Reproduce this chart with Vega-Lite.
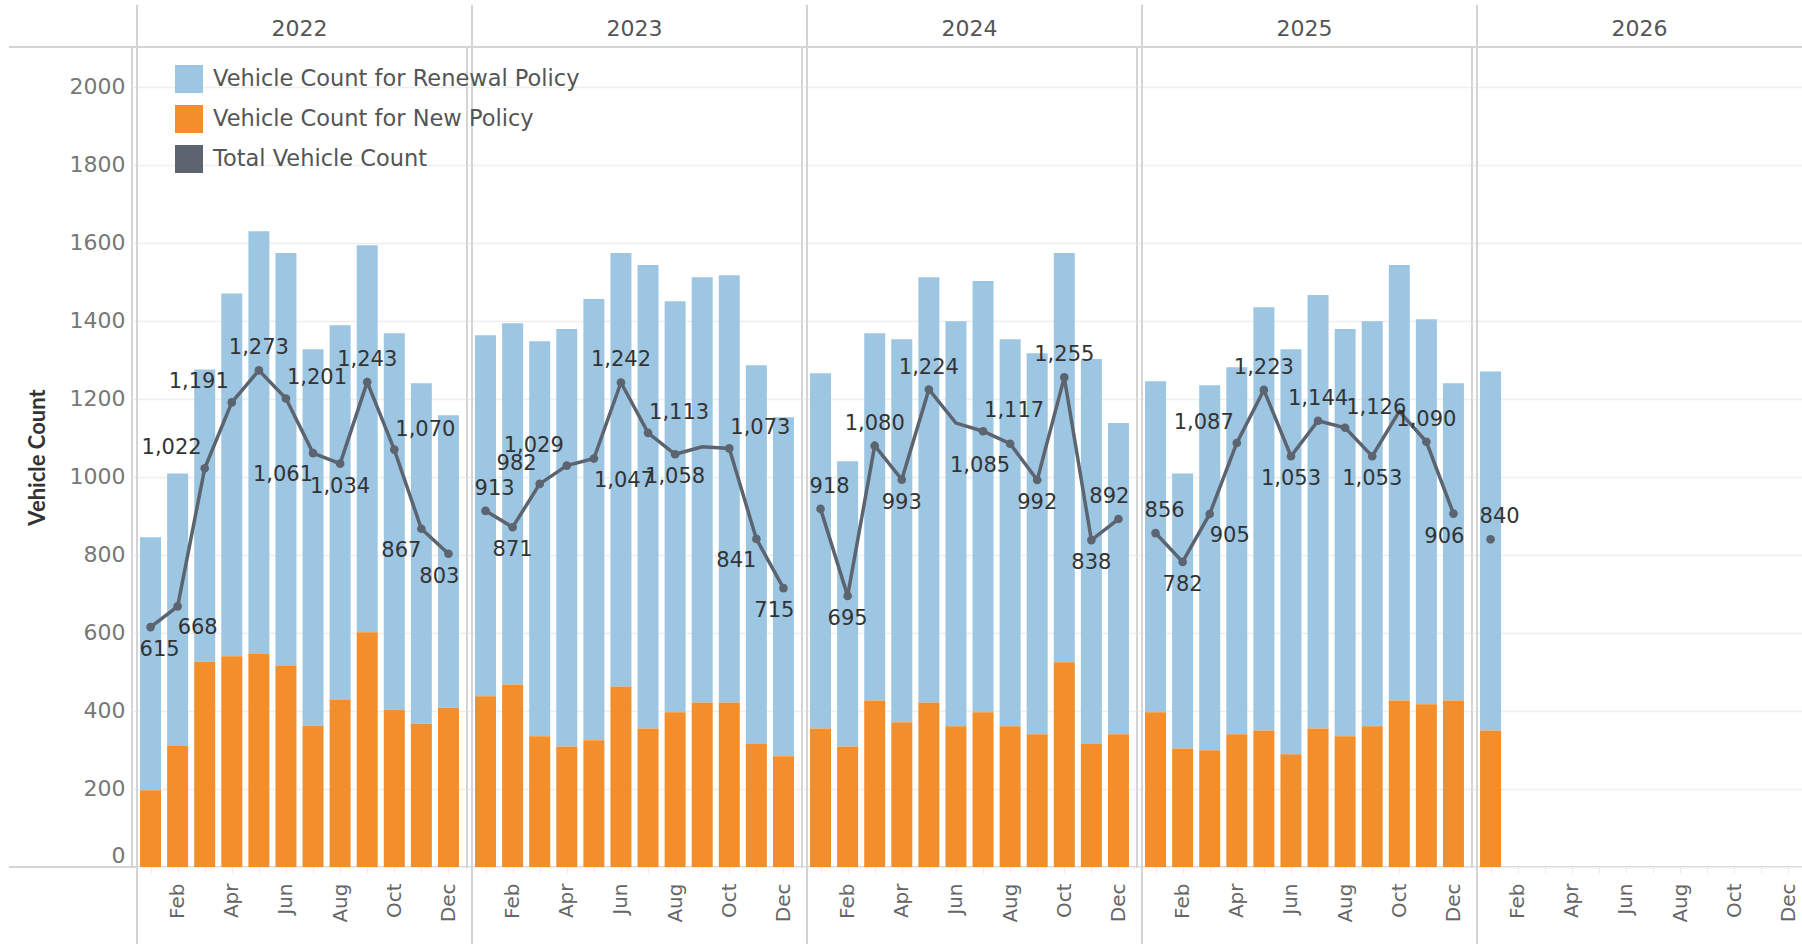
{
  "$schema": "https://vega.github.io/schema/vega-lite/v6.json",
  "padding": {"left": 6, "top": 2, "right": 0, "bottom": 0},
  "background": "white",
  "data": {"values": [
    {"year": 2022, "month": 1, "new": 197, "renewal": 648, "total": 615, "marked": true},
    {"year": 2022, "month": 2, "new": 310, "renewal": 699, "total": 668, "marked": true},
    {"year": 2022, "month": 3, "new": 526, "renewal": 749, "total": 1022, "marked": true},
    {"year": 2022, "month": 4, "new": 540, "renewal": 930, "total": 1191, "marked": true},
    {"year": 2022, "month": 5, "new": 546, "renewal": 1084, "total": 1273, "marked": true},
    {"year": 2022, "month": 6, "new": 515, "renewal": 1059, "total": 1201, "marked": true},
    {"year": 2022, "month": 7, "new": 362, "renewal": 965, "total": 1061, "marked": true},
    {"year": 2022, "month": 8, "new": 428, "renewal": 961, "total": 1034, "marked": true},
    {"year": 2022, "month": 9, "new": 602, "renewal": 992, "total": 1243, "marked": true},
    {"year": 2022, "month": 10, "new": 403, "renewal": 965, "total": 1070, "marked": true},
    {"year": 2022, "month": 11, "new": 367, "renewal": 873, "total": 867, "marked": true},
    {"year": 2022, "month": 12, "new": 408, "renewal": 750, "total": 803, "marked": true},
    {"year": 2023, "month": 1, "new": 438, "renewal": 925, "total": 913, "marked": true},
    {"year": 2023, "month": 2, "new": 468, "renewal": 926, "total": 871, "marked": true},
    {"year": 2023, "month": 3, "new": 335, "renewal": 1013, "total": 982, "marked": true},
    {"year": 2023, "month": 4, "new": 309, "renewal": 1070, "total": 1029, "marked": true},
    {"year": 2023, "month": 5, "new": 325, "renewal": 1131, "total": 1047, "marked": true},
    {"year": 2023, "month": 6, "new": 463, "renewal": 1111, "total": 1242, "marked": true},
    {"year": 2023, "month": 7, "new": 355, "renewal": 1188, "total": 1113, "marked": true},
    {"year": 2023, "month": 8, "new": 397, "renewal": 1053, "total": 1058, "marked": true},
    {"year": 2023, "month": 9, "new": 422, "renewal": 1090, "total": 1077, "marked": false},
    {"year": 2023, "month": 10, "new": 422, "renewal": 1095, "total": 1073, "marked": true},
    {"year": 2023, "month": 11, "new": 315, "renewal": 971, "total": 841, "marked": true},
    {"year": 2023, "month": 12, "new": 284, "renewal": 869, "total": 715, "marked": true},
    {"year": 2024, "month": 1, "new": 355, "renewal": 911, "total": 918, "marked": true},
    {"year": 2024, "month": 2, "new": 309, "renewal": 731, "total": 695, "marked": true},
    {"year": 2024, "month": 3, "new": 427, "renewal": 941, "total": 1080, "marked": true},
    {"year": 2024, "month": 4, "new": 371, "renewal": 982, "total": 993, "marked": true},
    {"year": 2024, "month": 5, "new": 422, "renewal": 1090, "total": 1224, "marked": true},
    {"year": 2024, "month": 6, "new": 361, "renewal": 1038, "total": 1138, "marked": false},
    {"year": 2024, "month": 7, "new": 397, "renewal": 1105, "total": 1117, "marked": true},
    {"year": 2024, "month": 8, "new": 361, "renewal": 992, "total": 1085, "marked": true},
    {"year": 2024, "month": 9, "new": 340, "renewal": 977, "total": 992, "marked": true},
    {"year": 2024, "month": 10, "new": 525, "renewal": 1049, "total": 1255, "marked": true},
    {"year": 2024, "month": 11, "new": 315, "renewal": 987, "total": 838, "marked": true},
    {"year": 2024, "month": 12, "new": 340, "renewal": 798, "total": 892, "marked": true},
    {"year": 2025, "month": 1, "new": 397, "renewal": 848, "total": 856, "marked": true},
    {"year": 2025, "month": 2, "new": 304, "renewal": 705, "total": 782, "marked": true},
    {"year": 2025, "month": 3, "new": 299, "renewal": 936, "total": 905, "marked": true},
    {"year": 2025, "month": 4, "new": 340, "renewal": 941, "total": 1087, "marked": true},
    {"year": 2025, "month": 5, "new": 350, "renewal": 1085, "total": 1223, "marked": true},
    {"year": 2025, "month": 6, "new": 289, "renewal": 1038, "total": 1053, "marked": true},
    {"year": 2025, "month": 7, "new": 355, "renewal": 1111, "total": 1144, "marked": true},
    {"year": 2025, "month": 8, "new": 335, "renewal": 1044, "total": 1126, "marked": true},
    {"year": 2025, "month": 9, "new": 361, "renewal": 1038, "total": 1053, "marked": true},
    {"year": 2025, "month": 10, "new": 427, "renewal": 1116, "total": 1168, "marked": false},
    {"year": 2025, "month": 11, "new": 417, "renewal": 987, "total": 1090, "marked": true},
    {"year": 2025, "month": 12, "new": 427, "renewal": 813, "total": 906, "marked": true},
    {"year": 2026, "month": 1, "new": 350, "renewal": 920, "total": 840, "marked": true}
  ]},
  "transform": [
    {"window": [
      {"op": "lag", "field": "total", "as": "prev"},
      {"op": "lead", "field": "total", "as": "next"},
      {"op": "lag", "field": "total", "param": 2, "as": "prev2"},
      {"op": "lag", "field": "marked", "as": "prevmarked"}
    ], "groupby": ["year"], "sort": [{"field": "month", "order": "ascending"}]}
  ],
  "facet": {"column": {"field": "year", "type": "ordinal", "header": {"title": null, "labelFontSize": 22, "labelColor": "#555555", "labelFont": "DejaVu Sans", "labelPadding": 6}}},
  "spacing": 0,
  "bounds": "flush",
  "spec": {
    "width": 335,
    "height": 820,
    "encoding": {
      "x": {"field": "month", "type": "quantitative", "title": null, "scale": {"domain": [0.5, 12.5], "nice": false, "zero": false},
        "axis": {"title": null, "values": [1,2,3,4,5,6,7,8,9,10,11,12], "labelExpr": "datum.value % 2 == 0 ? ['Jan','Feb','Mar','Apr','May','Jun','Jul','Aug','Sep','Oct','Nov','Dec'][datum.value - 1] : ''"}}
    },
    "layer": [
      {
        "transform": [{"fold": ["renewal", "new"], "as": ["measure", "value"]}],
        "mark": {"type": "bar", "size": 21},
        "encoding": {
          "y": {"field": "value", "type": "quantitative", "stack": "zero", "title": "Vehicle Count", "scale": {"domain": [0, 2102], "nice": false, "zero": true}, "axis": {"format": "d"}},
          "color": {"field": "measure", "type": "nominal",
            "scale": {"domain": ["renewal", "new", "total"], "range": ["#9dc6e3", "#f28e2b", "#5c6470"]},
            "legend": {"title": null, "orient": "none", "legendX": 43, "legendY": 18, "symbolType": "square", "symbolSize": 784, "symbolStrokeWidth": 0, "symbolOpacity": 1, "labelFontSize": 22.5, "labelColor": "#555555", "labelFont": "DejaVu Sans", "labelLimit": 0, "rowPadding": 12, "labelOffset": 10,
              "labelExpr": "datum.label == 'renewal' ? 'Vehicle Count for Renewal Policy' : datum.label == 'new' ? 'Vehicle Count for New Policy' : 'Total Vehicle Count'"}},
          "order": {"field": "measure", "sort": "ascending"}
        }
      },
      {
        "mark": {"type": "line", "strokeWidth": 3.5},
        "encoding": {
          "y": {"field": "total", "type": "quantitative", "title": "Vehicle Count"},
          "color": {"datum": "total", "type": "nominal", "legend": null}
        }
      },
      {
        "transform": [{"filter": "datum.marked"}],
        "mark": {"type": "point", "filled": true, "opacity": 1, "size": 75, "color": "#5c6470"},
        "encoding": {
          "y": {"field": "total", "type": "quantitative", "title": "Vehicle Count"}
        }
      },
      {
        "transform": [
          {"filter": "datum.marked && ((datum.total >= (((datum.prev == null ? datum.next : datum.prev) + (datum.next == null ? datum.prev : datum.next)) / 2) - ((datum.prev != null && datum.next != null && datum.prev > datum.total && datum.total > datum.next) ? 40 : 0)) && !(datum.prev != null && datum.next != null && datum.prev > datum.total && datum.total > datum.next && datum.prevmarked == true && datum.prev2 != null && datum.prev2 > datum.prev))"},
          {"filter": "datum.prev != null && datum.next != null && datum.prev < datum.total && datum.total < datum.next"}
        ],
        "mark": {"type": "text", "fontSize": 21, "font": "DejaVu Sans", "color": "#333333", "baseline": "alphabetic", "align": "right", "dx": -3, "dy": -14},
        "encoding": {"y": {"field": "total", "type": "quantitative", "title": "Vehicle Count"}, "text": {"field": "total", "type": "quantitative", "format": ","}}
      },
      {
        "transform": [
          {"filter": "datum.marked && ((datum.total >= (((datum.prev == null ? datum.next : datum.prev) + (datum.next == null ? datum.prev : datum.next)) / 2) - ((datum.prev != null && datum.next != null && datum.prev > datum.total && datum.total > datum.next) ? 40 : 0)) && !(datum.prev != null && datum.next != null && datum.prev > datum.total && datum.total > datum.next && datum.prevmarked == true && datum.prev2 != null && datum.prev2 > datum.prev))"},
          {"filter": "datum.month < 11 && datum.prev != null && datum.next != null && datum.prev > datum.total && datum.total > datum.next"}
        ],
        "mark": {"type": "text", "fontSize": 21, "font": "DejaVu Sans", "color": "#333333", "baseline": "alphabetic", "align": "left", "dx": 1, "dy": -14},
        "encoding": {"y": {"field": "total", "type": "quantitative", "title": "Vehicle Count"}, "text": {"field": "total", "type": "quantitative", "format": ","}}
      },
      {
        "transform": [
          {"filter": "datum.marked && ((datum.total >= (((datum.prev == null ? datum.next : datum.prev) + (datum.next == null ? datum.prev : datum.next)) / 2) - ((datum.prev != null && datum.next != null && datum.prev > datum.total && datum.total > datum.next) ? 40 : 0)) && !(datum.prev != null && datum.next != null && datum.prev > datum.total && datum.total > datum.next && datum.prevmarked == true && datum.prev2 != null && datum.prev2 > datum.prev))"},
          {"filter": "datum.month > 1 && datum.month < 12 && !(datum.prev != null && datum.next != null && datum.prev < datum.total && datum.total < datum.next) && !(datum.month < 11 && datum.prev != null && datum.next != null && datum.prev > datum.total && datum.total > datum.next)"}
        ],
        "mark": {"type": "text", "fontSize": 21, "font": "DejaVu Sans", "color": "#333333", "baseline": "alphabetic", "dy": -16},
        "encoding": {"y": {"field": "total", "type": "quantitative", "title": "Vehicle Count"}, "text": {"field": "total", "type": "quantitative", "format": ","}}
      },
      {
        "transform": [
          {"filter": "datum.marked && ((datum.total >= (((datum.prev == null ? datum.next : datum.prev) + (datum.next == null ? datum.prev : datum.next)) / 2) - ((datum.prev != null && datum.next != null && datum.prev > datum.total && datum.total > datum.next) ? 40 : 0)) && !(datum.prev != null && datum.next != null && datum.prev > datum.total && datum.total > datum.next && datum.prevmarked == true && datum.prev2 != null && datum.prev2 > datum.prev))"},
          {"filter": "datum.month == 1"}
        ],
        "mark": {"type": "text", "fontSize": 21, "font": "DejaVu Sans", "color": "#333333", "baseline": "alphabetic", "align": "left", "dx": -11, "dy": -16},
        "encoding": {"y": {"field": "total", "type": "quantitative", "title": "Vehicle Count"}, "text": {"field": "total", "type": "quantitative", "format": ","}}
      },
      {
        "transform": [
          {"filter": "datum.marked && ((datum.total >= (((datum.prev == null ? datum.next : datum.prev) + (datum.next == null ? datum.prev : datum.next)) / 2) - ((datum.prev != null && datum.next != null && datum.prev > datum.total && datum.total > datum.next) ? 40 : 0)) && !(datum.prev != null && datum.next != null && datum.prev > datum.total && datum.total > datum.next && datum.prevmarked == true && datum.prev2 != null && datum.prev2 > datum.prev))"},
          {"filter": "datum.month == 12"}
        ],
        "mark": {"type": "text", "fontSize": 21, "font": "DejaVu Sans", "color": "#333333", "baseline": "alphabetic", "align": "right", "dx": 11, "dy": -16},
        "encoding": {"y": {"field": "total", "type": "quantitative", "title": "Vehicle Count"}, "text": {"field": "total", "type": "quantitative", "format": ","}}
      },
      {
        "transform": [
          {"filter": "datum.marked && !((datum.total >= (((datum.prev == null ? datum.next : datum.prev) + (datum.next == null ? datum.prev : datum.next)) / 2) - ((datum.prev != null && datum.next != null && datum.prev > datum.total && datum.total > datum.next) ? 40 : 0)) && !(datum.prev != null && datum.next != null && datum.prev > datum.total && datum.total > datum.next && datum.prevmarked == true && datum.prev2 != null && datum.prev2 > datum.prev))"},
          {"filter": "datum.month < 11 && datum.prev != null && datum.next != null && datum.prev < datum.total && datum.total < datum.next"}
        ],
        "mark": {"type": "text", "fontSize": 21, "font": "DejaVu Sans", "color": "#333333", "baseline": "alphabetic", "align": "left", "dx": 0, "dy": 28},
        "encoding": {"y": {"field": "total", "type": "quantitative", "title": "Vehicle Count"}, "text": {"field": "total", "type": "quantitative", "format": ","}}
      },
      {
        "transform": [
          {"filter": "datum.marked && !((datum.total >= (((datum.prev == null ? datum.next : datum.prev) + (datum.next == null ? datum.prev : datum.next)) / 2) - ((datum.prev != null && datum.next != null && datum.prev > datum.total && datum.total > datum.next) ? 40 : 0)) && !(datum.prev != null && datum.next != null && datum.prev > datum.total && datum.total > datum.next && datum.prevmarked == true && datum.prev2 != null && datum.prev2 > datum.prev))"},
          {"filter": "datum.prev != null && datum.next != null && datum.prev > datum.total && datum.total > datum.next"}
        ],
        "mark": {"type": "text", "fontSize": 21, "font": "DejaVu Sans", "color": "#333333", "baseline": "alphabetic", "align": "right", "dx": 0, "dy": 28},
        "encoding": {"y": {"field": "total", "type": "quantitative", "title": "Vehicle Count"}, "text": {"field": "total", "type": "quantitative", "format": ","}}
      },
      {
        "transform": [
          {"filter": "datum.marked && !((datum.total >= (((datum.prev == null ? datum.next : datum.prev) + (datum.next == null ? datum.prev : datum.next)) / 2) - ((datum.prev != null && datum.next != null && datum.prev > datum.total && datum.total > datum.next) ? 40 : 0)) && !(datum.prev != null && datum.next != null && datum.prev > datum.total && datum.total > datum.next && datum.prevmarked == true && datum.prev2 != null && datum.prev2 > datum.prev))"},
          {"filter": "datum.month > 1 && datum.month < 12 && !(datum.prev != null && datum.next != null && datum.prev > datum.total && datum.total > datum.next) && !(datum.month < 11 && datum.prev != null && datum.next != null && datum.prev < datum.total && datum.total < datum.next)"}
        ],
        "mark": {"type": "text", "fontSize": 21, "font": "DejaVu Sans", "color": "#333333", "baseline": "alphabetic", "dy": 29},
        "encoding": {"y": {"field": "total", "type": "quantitative", "title": "Vehicle Count"}, "text": {"field": "total", "type": "quantitative", "format": ","}}
      },
      {
        "transform": [
          {"filter": "datum.marked && !((datum.total >= (((datum.prev == null ? datum.next : datum.prev) + (datum.next == null ? datum.prev : datum.next)) / 2) - ((datum.prev != null && datum.next != null && datum.prev > datum.total && datum.total > datum.next) ? 40 : 0)) && !(datum.prev != null && datum.next != null && datum.prev > datum.total && datum.total > datum.next && datum.prevmarked == true && datum.prev2 != null && datum.prev2 > datum.prev))"},
          {"filter": "datum.month == 1"}
        ],
        "mark": {"type": "text", "fontSize": 21, "font": "DejaVu Sans", "color": "#333333", "baseline": "alphabetic", "align": "left", "dx": -11, "dy": 29},
        "encoding": {"y": {"field": "total", "type": "quantitative", "title": "Vehicle Count"}, "text": {"field": "total", "type": "quantitative", "format": ","}}
      },
      {
        "transform": [
          {"filter": "datum.marked && !((datum.total >= (((datum.prev == null ? datum.next : datum.prev) + (datum.next == null ? datum.prev : datum.next)) / 2) - ((datum.prev != null && datum.next != null && datum.prev > datum.total && datum.total > datum.next) ? 40 : 0)) && !(datum.prev != null && datum.next != null && datum.prev > datum.total && datum.total > datum.next && datum.prevmarked == true && datum.prev2 != null && datum.prev2 > datum.prev))"},
          {"filter": "datum.month == 12"}
        ],
        "mark": {"type": "text", "fontSize": 21, "font": "DejaVu Sans", "color": "#333333", "baseline": "alphabetic", "align": "right", "dx": 11, "dy": 29},
        "encoding": {"y": {"field": "total", "type": "quantitative", "title": "Vehicle Count"}, "text": {"field": "total", "type": "quantitative", "format": ","}}
      },
      {
        "transform": [{"filter": "datum.month == 1"}],
        "mark": {"type": "rule", "color": "#d4d4d4", "strokeWidth": 2},
        "encoding": {
          "x": {"datum": 0.5, "type": "quantitative", "title": null},
          "y": {"datum": 2210, "type": "quantitative", "title": "Vehicle Count"},
          "y2": {"datum": -200}
        }
      },
      {
        "transform": [{"filter": "datum.month == 1 && datum.year == 2022"}],
        "mark": {"type": "rule", "color": "#d4d4d4", "strokeWidth": 2},
        "encoding": {
          "x": {"datum": -4.23, "type": "quantitative", "title": null},
          "x2": {"datum": 0.5},
          "y": {"datum": 2102, "type": "quantitative", "title": "Vehicle Count"}
        }
      },
      {
        "transform": [{"filter": "datum.month == 1 && datum.year == 2022"}],
        "mark": {"type": "rule", "color": "#d4d4d4", "strokeWidth": 2},
        "encoding": {
          "x": {"datum": -4.23, "type": "quantitative", "title": null},
          "x2": {"datum": 0.5},
          "y": {"datum": 0, "type": "quantitative", "title": "Vehicle Count"}
        }
      }
    ]
  },
  "config": {
    "font": "DejaVu Sans",
    "view": {"stroke": "#d4d4d4", "strokeWidth": 2, "fill": "transparent"},
    "axis": {"labelFont": "DejaVu Sans", "titleFont": "Lato"},
    "axisX": {"labelAngle": -90, "labelFontSize": 20, "labelColor": "#666666", "labelPadding": 10, "domain": false, "ticks": true, "tickColor": "#ebebeb", "tickSize": 6, "grid": false, "labelFlush": false, "labelOverlap": false},
    "axisY": {"tickCount": 11, "labelFontSize": 22, "labelColor": "#777777", "labelPadding": 7, "labelFlush": true, "ticks": false, "domain": false, "grid": true, "gridColor": "#eeeeee", "gridWidth": 1.5, "titleFontSize": 22, "titleFontWeight": "bold", "titleColor": "#333333", "titlePadding": 20}
  }
}
